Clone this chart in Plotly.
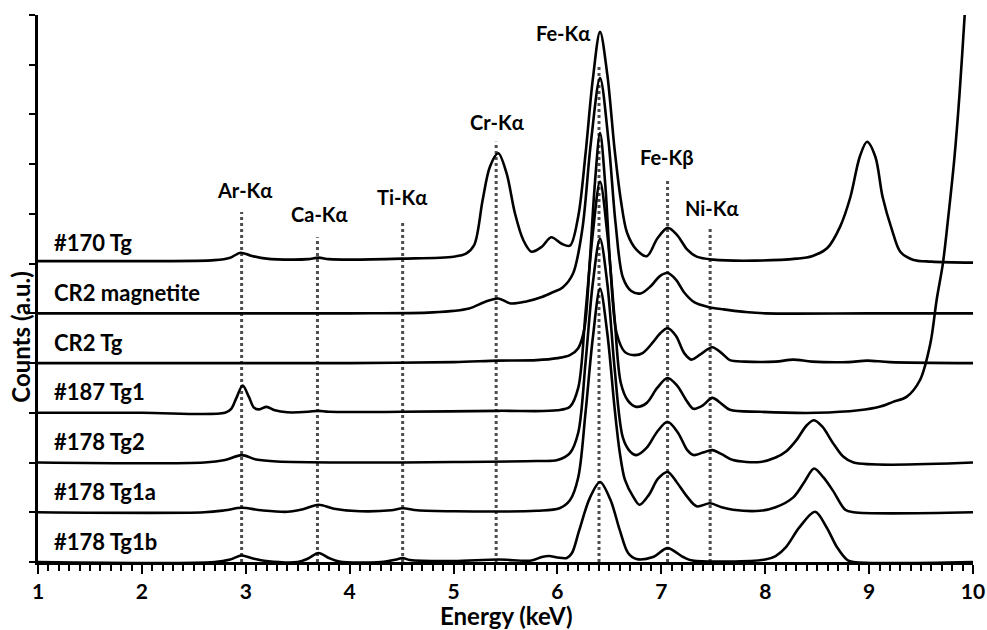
import plotly.graph_objects as go

# ---------------- data ----------------
sample_names = ["#170 Tg", "CR2 magnetite", "CR2 Tg", "#187 Tg1",
                "#178 Tg2", "#178 Tg1a", "#178 Tg1b"]
offsets = [6, 5, 4, 3, 2, 1, 0]

e_170 = [1.0, 2.0, 2.7, 2.85, 2.95, 3.05, 3.2, 3.45, 3.6, 3.7, 3.8, 4.0, 4.5, 5.0, 5.12,
         5.2, 5.28, 5.35, 5.43, 5.51, 5.59, 5.67, 5.75, 5.85, 5.94, 6.04, 6.12, 6.2,
         6.27, 6.34, 6.41, 6.48, 6.55, 6.61, 6.67, 6.76, 6.86, 6.96, 7.06, 7.15, 7.25,
         7.34, 7.5, 7.9, 8.3, 8.45, 8.6, 8.72, 8.82, 8.91, 8.98, 9.06, 9.13, 9.22, 9.3,
         9.42, 9.6, 10.0]
c_170 = [0.05, 0.05, 0.07, 0.12, 0.22, 0.16, 0.1, 0.08, 0.09, 0.12, 0.09, 0.08, 0.1, 0.14, 0.2,
         0.38, 1.28, 1.95, 2.22, 1.82, 1.02, 0.48, 0.24, 0.34, 0.53, 0.4, 0.36, 0.95,
         2.2, 3.7, 4.66, 3.8, 2.3, 1.28, 0.62, 0.28, 0.15, 0.5, 0.72, 0.58, 0.28,
         0.14, 0.08, 0.06, 0.1, 0.15, 0.32, 0.74, 1.34, 2.15, 2.45, 2.15, 1.34, 0.68, 0.24,
         0.08, 0.04, 0.02]

e_cr2m = [1.0, 2.0, 3.0, 4.0, 4.8, 5.15, 5.3, 5.43, 5.55, 5.7, 5.85, 5.95, 6.05, 6.15,
          6.24, 6.32, 6.41, 6.49, 6.56, 6.63, 6.71, 6.8, 6.9, 6.98, 7.06, 7.14, 7.22,
          7.32, 7.45, 7.6, 7.8, 8.0, 9.0, 10.0]
c_cr2m = [0.0, 0.0, 0.0, 0.0, 0.02, 0.1, 0.23, 0.3, 0.2, 0.24, 0.33, 0.42, 0.52, 0.8,
          1.7, 3.4, 4.73, 3.5, 1.8, 0.72, 0.45, 0.4, 0.55, 0.74, 0.81, 0.68, 0.42,
          0.22, 0.13, 0.08, 0.03, 0.0, 0.0, 0.0]

e_cr2t = [1.0, 3.0, 4.0, 5.0, 5.43, 5.8, 6.0, 6.12, 6.2, 6.26, 6.31, 6.36, 6.41, 6.46,
          6.51, 6.57, 6.65, 6.74, 6.82, 6.92, 6.99, 7.06, 7.14, 7.22, 7.29, 7.38, 7.49,
          7.58, 7.66, 7.8, 8.1, 8.27, 8.45, 8.8, 8.98, 9.2, 10.0]
c_cr2t = [0.0, 0.0, 0.0, 0.02, 0.05, 0.06, 0.1, 0.16, 0.3, 0.7, 2.0, 3.6, 4.63, 3.6,
          1.9, 0.6, 0.22, 0.16, 0.2, 0.42, 0.6, 0.7, 0.55, 0.2, 0.07, 0.18, 0.32,
          0.2, 0.06, 0.03, 0.03, 0.07, 0.03, 0.02, 0.05, 0.02, 0.0]

e_187 = [1.0, 2.0, 2.8, 2.86, 2.91, 2.97, 3.03, 3.08, 3.13, 3.2, 3.28, 3.4, 3.6, 3.7,
         3.8, 4.5, 5.43, 6.0, 6.12, 6.2, 6.27, 6.34, 6.41, 6.48, 6.55, 6.61, 6.68,
         6.76, 6.86, 6.96, 7.06, 7.15, 7.25, 7.31, 7.4, 7.49, 7.58, 7.66, 7.95, 8.5,
         8.9, 9.1, 9.23, 9.36, 9.49, 9.59, 9.65, 9.71, 9.76, 9.82, 9.87, 9.92, 9.95]
c_187 = [0.0, 0.0, 0.0, 0.08, 0.3, 0.55, 0.32, 0.1, 0.07, 0.12, 0.05, 0.01, 0.02, 0.04,
         0.02, 0.02, 0.04, 0.05, 0.12, 0.5, 2.0, 3.6, 4.65, 3.6, 1.9, 0.6, 0.24,
         0.12, 0.2, 0.5, 0.7, 0.55, 0.22, 0.08, 0.15, 0.3, 0.18, 0.06, 0.02, 0.0,
         0.05, 0.12, 0.22, 0.32, 0.66, 1.4, 2.27, 3.0, 3.9, 5.1, 6.4, 8.0, 9.0]

e_t2 = [1.0, 2.6, 2.8, 2.96, 3.1, 3.3, 4.0, 5.0, 5.8, 6.0, 6.12, 6.2, 6.27, 6.34, 6.41,
        6.48, 6.55, 6.63, 6.7, 6.76, 6.86, 6.96, 7.06, 7.16, 7.25, 7.31, 7.4, 7.49,
        7.58, 7.69, 7.95, 8.1, 8.2, 8.3, 8.4, 8.47, 8.55, 8.65, 8.75, 8.85, 10.0]
c_t2 = [0.0, 0.0, 0.05, 0.15, 0.06, 0.02, 0.0, 0.01, 0.03, 0.05, 0.19, 0.6, 2.0, 3.6, 4.5,
        3.6, 1.9, 0.5, 0.22, 0.15, 0.3, 0.62, 0.82, 0.6, 0.25, 0.15, 0.2, 0.25,
        0.17, 0.05, 0.01, 0.1, 0.22, 0.45, 0.75, 0.85, 0.72, 0.4, 0.12, 0.0, 0.0]

e_t1a = [1.0, 2.6, 2.8, 2.96, 3.15, 3.4, 3.55, 3.7, 3.85, 4.1, 4.4, 4.51, 4.65, 5.0,
         5.8, 6.02, 6.12, 6.2, 6.27, 6.34, 6.41, 6.48, 6.55, 6.6, 6.65, 6.73, 6.79,
         6.88, 6.97, 7.06, 7.15, 7.25, 7.34, 7.47, 7.58, 7.69, 7.95, 8.1, 8.27, 8.38,
         8.47, 8.56, 8.65, 8.77, 8.85, 10.0]
c_t1a = [0.0, 0.0, 0.04, 0.09, 0.04, 0.01, 0.06, 0.15, 0.07, 0.02, 0.04, 0.08, 0.04, 0.02,
         0.03, 0.08, 0.24, 0.7, 2.0, 3.5, 4.5, 3.6, 2.1, 1.2, 0.65, 0.31, 0.15,
         0.35, 0.68, 0.81, 0.6, 0.31, 0.12, 0.18, 0.1, 0.05, 0.03, 0.1, 0.3, 0.62,
         0.88, 0.7, 0.44, 0.05, 0.0, 0.0]

e_t1b = [1.0, 2.7, 2.85, 2.96, 3.07, 3.2, 3.5, 3.6, 3.7, 3.8, 3.9, 4.3, 4.45, 4.51, 4.58,
         5.0, 5.43, 5.75, 5.85, 5.92, 6.0, 6.09, 6.14, 6.21, 6.31, 6.41, 6.51, 6.6,
         6.68, 6.76, 6.92, 7.06, 7.21, 7.3, 8.0, 8.1, 8.2, 8.33, 8.48, 8.59, 8.69,
         8.79, 8.85, 10.0]
c_t1b = [0.0, 0.0, 0.05, 0.13, 0.07, 0.02, 0.0, 0.07, 0.18, 0.08, 0.01, 0.0, 0.05, 0.08, 0.04,
         0.02, 0.05, 0.03, 0.1, 0.12, 0.09, 0.08, 0.18, 0.64, 1.28, 1.61, 1.25, 0.64,
         0.18, 0.06, 0.1, 0.28, 0.1, 0.03, 0.05, 0.12, 0.3, 0.7, 1.01, 0.7, 0.3,
         0.04, 0.0, 0.0]

energies = [e_170, e_cr2m, e_cr2t, e_187, e_t2, e_t1a, e_t1b]
counts = [c_170, c_cr2m, c_cr2t, c_187, c_t2, c_t1a, c_t1b]

line_names = ["Ar-Kα", "Ca-Kα", "Ti-Kα", "Cr-Kα", "Fe-Kα", "Fe-Kβ", "Ni-Kα"]
line_energy = [2.96, 3.69, 4.51, 5.41, 6.40, 7.06, 7.47]
line_top = [7.04, 6.53, 6.88, 8.45, 10.0, 7.68, 6.72]
label_x = [2.99, 3.71, 4.50, 5.42, 6.05, 7.05, 7.49]
label_y = [7.48, 7.0, 7.34, 8.85, 10.64, 8.14, 7.12]

x_ticks = [1, 2, 3, 4, 5, 6, 7, 8, 9, 10]

# ---------------- figure ----------------
FONT = "Lato, 'Open Sans', 'DejaVu Sans', sans-serif"
fig = go.Figure()

for en, top in zip(line_energy, line_top):
    fig.add_trace(go.Scatter(x=[en, en], y=[0, top], mode="lines",
                             line=dict(color="#4d4d4d", width=3, dash="dot"),
                             hoverinfo="skip", showlegend=False))

for name, off, en, ct in zip(sample_names, offsets, energies, counts):
    fig.add_trace(go.Scatter(x=en, y=[v + off for v in ct], mode="lines", name=name,
                             line=dict(color="black", width=2.6, shape="spline",
                                       smoothing=0.9),
                             showlegend=False))

for txt, lx, ly in zip(line_names, label_x, label_y):
    fig.add_annotation(x=lx, y=ly, text="<b>" + txt + "</b>", showarrow=False,
                       font=dict(family=FONT, size=20, color="black"))

for name, off in zip(sample_names, offsets):
    fig.add_annotation(x=1.13, y=off + 0.42, text="<b>" + name + "</b>", showarrow=False,
                       xanchor="left", font=dict(family=FONT, size=22, color="black"))

fig.add_annotation(xref="paper", yref="paper", x=0.5, y=0, yshift=-53,
                   text="<b>Energy (keV)</b>", showarrow=False, yanchor="middle",
                   xanchor="center", font=dict(family=FONT, size=24, color="black"))
fig.add_annotation(xref="paper", yref="paper", x=0, xshift=-17, y=0.41,
                   text="<b>Counts (a.u.)</b>", showarrow=False, textangle=-90,
                   xanchor="center", yanchor="middle",
                   font=dict(family=FONT, size=24, color="black"))

fig.update_layout(
    width=987, height=630,
    margin=dict(l=38, r=14, t=15, b=68, autoexpand=False),
    paper_bgcolor="white", plot_bgcolor="white",
    font=dict(family=FONT, color="black"),
    xaxis=dict(range=[1, 10], tickvals=x_ticks,
               ticktext=["<b>" + str(t) + "</b>" for t in x_ticks],
               showgrid=False, zeroline=False, showline=True, linecolor="black",
               linewidth=2.6, ticks="outside", ticklen=9, tickwidth=2.4,
               tickcolor="black", ticklabelstandoff=0,
               tickfont=dict(family=FONT, size=21, color="black"),
               minor=dict(dtick=0.1, ticks="outside", ticklen=6, tickwidth=2,
                          tickcolor="black", showgrid=False)),
    yaxis=dict(range=[0, 11], dtick=1, showticklabels=False, showgrid=False,
               zeroline=False, showline=True, linecolor="black", linewidth=2.6,
               ticks="outside", ticklen=6, tickwidth=2.2, tickcolor="black"),
)

fig.write_html("out.html", config={"displayModeBar": False},
               post_script="document.body.style.margin='0px';document.body.style.overflow='hidden';")
